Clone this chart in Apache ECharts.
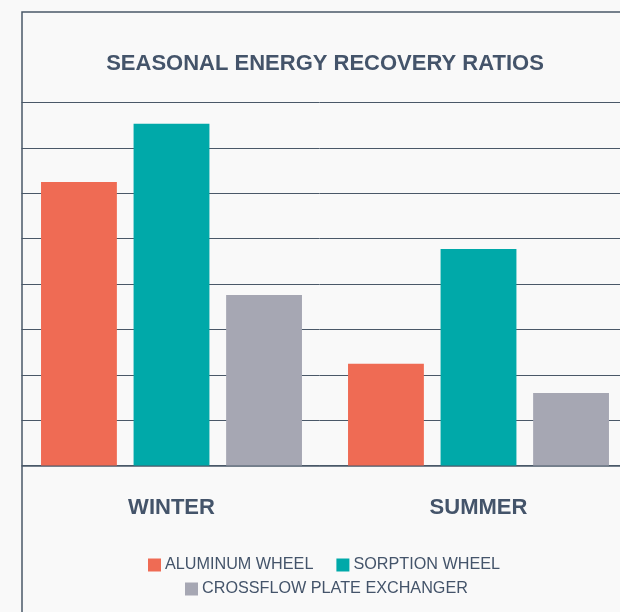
<!DOCTYPE html>
<html>
<head>
<meta charset="utf-8">
<script src="https://cdn.jsdelivr.net/npm/echarts@6/dist/echarts.min.js"></script>
<style>
  html, body { margin: 0; padding: 0; background: #f9f9f9; }
  #main { width: 620px; height: 612px; }
</style>
</head>
<body>
<div id="main"></div>
<script>
const chart = echarts.init(document.getElementById('main'));

// Data (no axis labels shown, scale 0-80)
const seasons = ['WINTER', 'SUMMER'];
const seriesNames = ['ALUMINUM WHEEL', 'SORPTION WHEEL', 'CROSSFLOW PLATE EXCHANGER'];
const aluminumWheel = [62.5, 22.4];
const sorptionWheel = [75.3, 47.7];
const crossflowPlate = [37.6, 16.0];
const colors = ['#ef6b54', '#00a9a9', '#a6a7b3'];

const ink = '#44546a';
const lineColor = '#4a5868';
const bg = '#f9f9f9';

const options = {
  backgroundColor: bg,
  color: colors,
  textStyle: { fontFamily: 'Liberation Sans, Arial, sans-serif' },
  title: {
    text: 'SEASONAL ENERGY RECOVERY RATIOS',
    left: 320,
    textAlign: 'center',
    top: 48,
    textStyle: { color: ink, fontSize: 22, fontWeight: 'bold', fontFamily: 'Liberation Sans' }
  },
  legend: [
    {
      data: seriesNames.slice(0, 2),
      left: 143,
      top: 552,
      icon: 'rect',
      itemWidth: 13,
      itemHeight: 13,
      itemGap: 23,
      textStyle: { color: ink, fontSize: 16.2, padding: [0, 0, 0, -1] }
    },
    {
      data: seriesNames.slice(2),
      left: 180,
      top: 576,
      icon: 'rect',
      itemWidth: 13,
      itemHeight: 13,
      textStyle: { color: ink, fontSize: 16.2, padding: [0, 0, 0, -1] }
    }
  ],
  grid: {
    left: 18, width: 614, top: 102.5, bottom: 146.5,
    containLabel: false, outerBoundsMode: 'none'
  },
  xAxis: {
    type: 'category',
    data: seasons,
    axisTick: { show: false },
    axisLine: { lineStyle: { color: lineColor, width: 1.5 } },
    axisLabel: { color: ink, fontSize: 22, fontWeight: 'bold', margin: 31 }
  },
  yAxis: {
    type: 'value',
    min: 0,
    max: 80,
    interval: 10,
    axisLabel: { show: false },
    axisLine: { show: false },
    axisTick: { show: false },
    splitLine: { lineStyle: { color: lineColor, width: 1 } }
  },
  series: [
    { name: seriesNames[0], type: 'bar', data: aluminumWheel, barGap: '22%', barCategoryGap: '15%' },
    { name: seriesNames[1], type: 'bar', data: sorptionWheel },
    { name: seriesNames[2], type: 'bar', data: crossflowPlate }
  ],
  graphic: [
    // hide gridline stubs left of the frame
    { type: 'rect', z: 90, shape: { x: 0, y: 0, width: 21.5, height: 612 }, style: { fill: bg } },
    // frame
    {
      type: 'rect', z: 100,
      shape: { x: 22, y: 12, width: 700, height: 700 },
      style: { fill: 'none', stroke: lineColor, lineWidth: 1.5 }
    }
  ]
};

chart.setOption(options);
</script>
</body>
</html>
